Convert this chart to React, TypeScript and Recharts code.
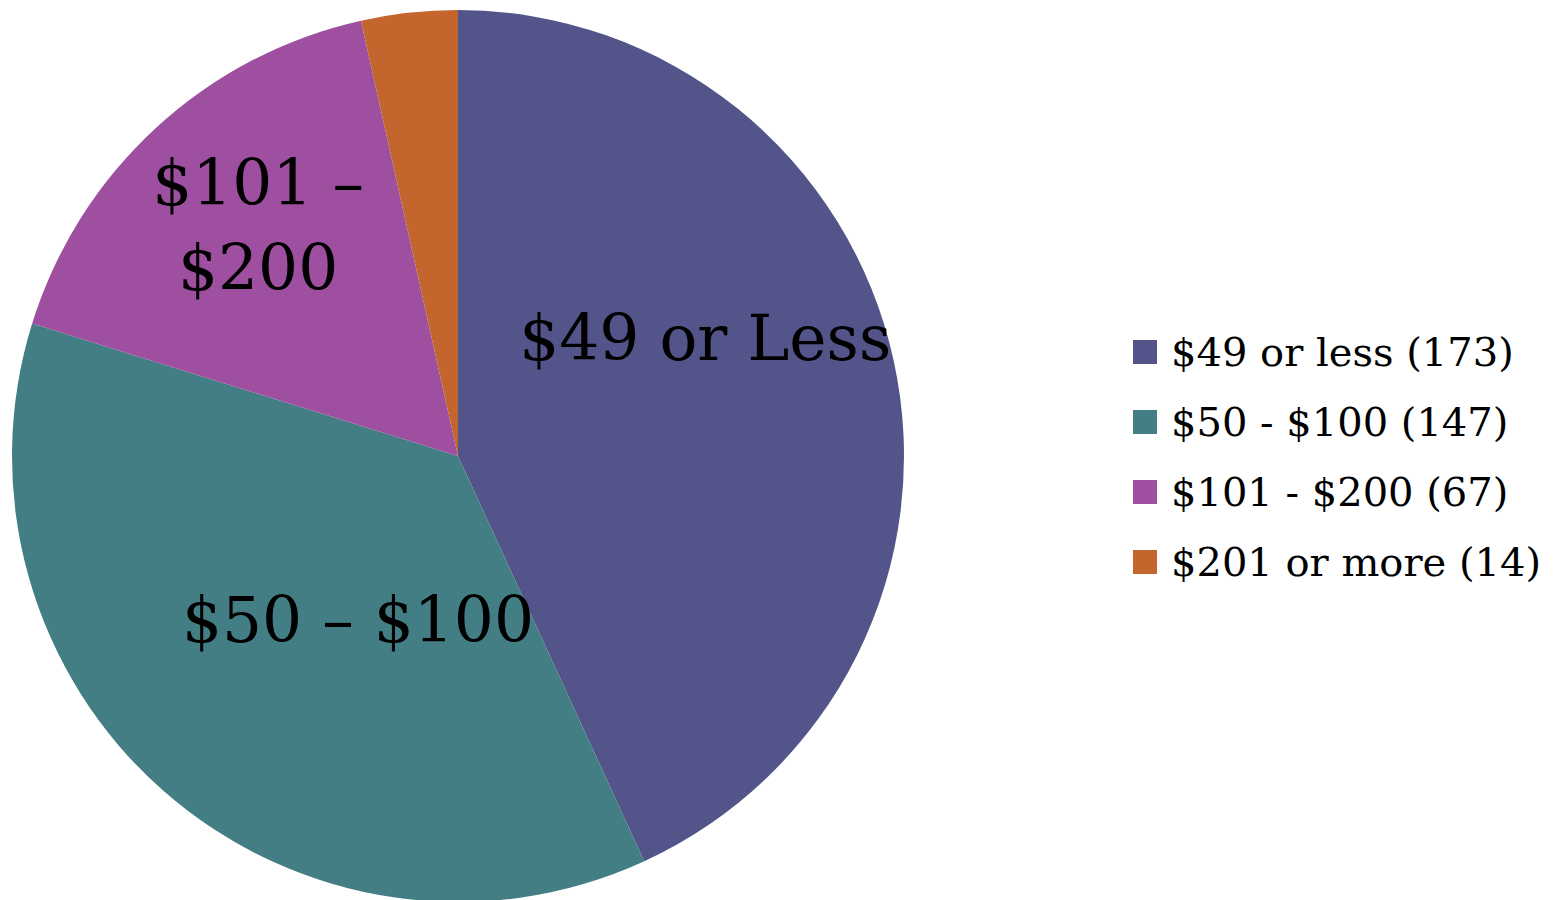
import React from 'react';
import { PieChart, Pie, Cell, Legend } from 'recharts';

const categories = ['$49 or less', '$50 - $100', '$101 - $200', '$201 or more'];
const counts = [173, 147, 67, 14];
const sliceLabels = [['$49 or Less'], ['$50 – $100'], ['$101 –', '$200'], []];

const colors = ['#53548A', '#437E84', '#9E4FA0', '#C4652D'];
// label placement (radius, angle offset in degrees) per slice – styling only
const labelPlacement = [
  { r: 274, da: 13.2 },
  { r: 192, da: 9.9 },
  { r: 305, da: -1.7 },
  { r: 0, da: 0 },
];

const data = categories.map((name, i) => ({ name, value: counts[i], lines: sliceLabels[i] }));

const FONT = "'DejaVu Serif', Georgia, serif";
const RAD = Math.PI / 180;

const renderLabel = (props: any) => {
  const { cx, cy, midAngle, index } = props;
  const lines: string[] = data[index].lines;
  if (!lines.length) return null;
  const p = labelPlacement[index];
  const a = (midAngle + p.da) * RAD;
  const x = cx + p.r * Math.cos(a);
  const y = cy - p.r * Math.sin(a);
  const lh = 85;
  const y0 = y - ((lines.length - 1) * lh) / 2;
  return (
    <text x={x} y={y0} textAnchor="middle" dominantBaseline="central" fill="#000" fontFamily={FONT} fontSize={63}>
      {lines.map((l, i) => (
        <tspan key={i} x={x} y={y0 + i * lh} dominantBaseline="central">{l}</tspan>
      ))}
    </text>
  );
};

const renderLegend = () => (
  <div style={{ fontFamily: FONT }}>
    {data.map((d, i) => (
      <div key={d.name} style={{ display: 'flex', alignItems: 'center', height: 70 }}>
        <div style={{ width: 24, height: 24, background: colors[i], marginRight: 14 }} />
        <span style={{ fontSize: 40, color: '#000', whiteSpace: 'nowrap' }}>{`${d.name} (${d.value})`}</span>
      </div>
    ))}
  </div>
);

export default function App() {
  return (
    <div style={{ position: 'absolute', left: 0, top: 0, width: 1554, height: 900, background: '#fff' }}>
      <PieChart width={1554} height={900} margin={{ top: 0, right: 0, bottom: 0, left: 0 }}>
        <Pie
          data={data}
          dataKey="value"
          nameKey="name"
          cx={458}
          cy={456}
          outerRadius={446}
          startAngle={90}
          endAngle={-270}
          stroke="none"
          label={renderLabel}
          labelLine={false}
          isAnimationActive={false}
        >
          {data.map((d, i) => (
            <Cell key={d.name} fill={colors[i]} />
          ))}
        </Pie>
        <Legend
          content={renderLegend}
          layout="vertical"
          wrapperStyle={{ position: 'absolute', left: 1133, top: 317, width: 421 }}
        />
      </PieChart>
    </div>
  );
}
